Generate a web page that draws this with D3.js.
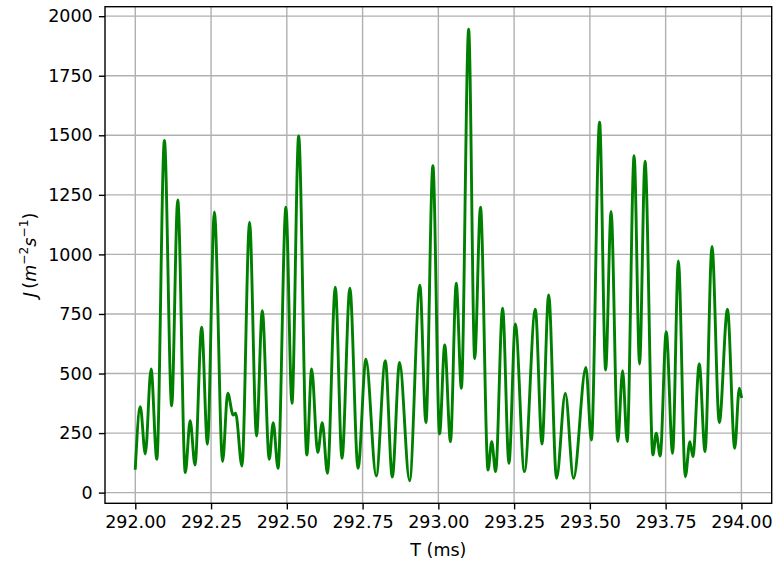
<!DOCTYPE html>
<html>
<head>
<meta charset="utf-8">
<script src="https://cdn.jsdelivr.net/npm/d3@7"></script>
<style>
  html, body { margin: 0; padding: 0; background: #fff; }
  svg { display: block; font-family: "DejaVu Sans", sans-serif; }
</style>
</head>
<body>
<svg id="chart" width="778" height="565"></svg>
<script>
// Flux J over time: turning points of the trace (time in ms, flux in m^-2 s^-1)
const timeMs = [
  292.000, 292.0165, 292.033, 292.052, 292.071, 292.096, 292.120, 292.140, 292.165, 292.181,
  292.197, 292.219, 292.238, 292.261, 292.288, 292.305, 292.323, 292.331, 292.352, 292.377,
  292.400, 292.419, 292.442, 292.455, 292.471, 292.497, 292.517, 292.539, 292.566, 292.582,
  292.602, 292.617, 292.634, 292.660, 292.682, 292.708, 292.735, 292.761, 292.795, 292.825,
  292.848, 292.872, 292.905, 292.939, 292.959, 292.982, 293.004, 293.021, 293.040, 293.059,
  293.076, 293.100, 293.120, 293.139, 293.164, 293.176, 293.189, 293.212, 293.233, 293.254,
  293.284, 293.320, 293.342, 293.364, 293.390, 293.419, 293.446, 293.487, 293.505, 293.532,
  293.552, 293.570, 293.592, 293.608, 293.623, 293.646, 293.664, 293.682, 293.708, 293.719,
  293.732, 293.752, 293.773, 293.792, 293.815, 293.830, 293.840, 293.861, 293.880, 293.903,
  293.927, 293.954, 293.978, 293.993, 294.000
];
const flux = [
  102, 361, 162, 519, 140, 1478, 364, 1229, 84, 302,
  116, 694, 203, 1178, 130, 417, 326, 333, 112, 1135,
  238, 764, 140, 294, 102, 1198, 375, 1497, 158, 519,
  168, 294, 81, 862, 144, 858, 102, 560, 70, 554,
  65, 546, 50, 871, 294, 1372, 246, 620, 214, 879,
  438, 1945, 563, 1198, 95, 214, 88, 774, 123, 708,
  88, 770, 204, 830, 60, 417, 60, 526, 221, 1555,
  515, 1180, 214, 512, 214, 1414, 540, 1391, 158, 249,
  154, 676, 165, 973, 67, 214, 151, 540, 172, 1033,
  294, 770, 186, 438, 403
];
const xTickValues = [292.00, 292.25, 292.50, 292.75, 293.00, 293.25, 293.50, 293.75, 294.00];
const yTickValues = [0, 250, 500, 750, 1000, 1250, 1500, 1750, 2000];

const data = timeMs.map((t, i) => ({ t: t, j: flux[i] }));

const W = 778, H = 565;
const plot = { left: 105, top: 6.7, right: 771.7, bottom: 503.3 };
const pt = 1.75;            // px per point
const fontPx = 17.5;

const svg = d3.select("#chart");

// 5% padding around data extent on both axes
const tExt = d3.extent(timeMs), jExt = d3.extent(flux);
const tPad = (tExt[1] - tExt[0]) * 0.05, jPad = (jExt[1] - jExt[0]) * 0.05;

const x = d3.scaleLinear().domain([tExt[0] - tPad, tExt[1] + tPad]).range([plot.left, plot.right]);
const y = d3.scaleLinear().domain([jExt[0] - jPad, jExt[1] + jPad]).range([plot.bottom, plot.top]);

// grid
const grid = svg.append("g").attr("stroke", "#b0b0b0").attr("stroke-width", 0.8 * pt);
grid.selectAll("line.gx").data(xTickValues).join("line")
  .attr("x1", d => x(d)).attr("x2", d => x(d))
  .attr("y1", plot.top).attr("y2", plot.bottom);
grid.selectAll("line.gy").data(yTickValues).join("line")
  .attr("class", "gy")
  .attr("x1", plot.left).attr("x2", plot.right)
  .attr("y1", d => y(d)).attr("y2", d => y(d));

// trace
svg.append("defs").append("clipPath").attr("id", "clip")
  .append("rect").attr("x", plot.left).attr("y", plot.top)
  .attr("width", plot.right - plot.left).attr("height", plot.bottom - plot.top);

const line = d3.line().x(d => x(d.t)).y(d => y(d.j)).curve(d3.curveMonotoneX);
svg.append("path").datum(data)
  .attr("clip-path", "url(#clip)")
  .attr("fill", "none").attr("stroke", "#008000")
  .attr("stroke-width", 2.9).attr("stroke-linejoin", "round").attr("stroke-linecap", "square")
  .attr("d", line);

// axes
const xAxis = d3.axisBottom(x).tickValues(xTickValues).tickFormat(d3.format(".2f"))
  .tickSize(3.5 * pt).tickPadding(3.5 * pt);
const yAxis = d3.axisLeft(y).tickValues(yTickValues).tickFormat(d3.format("d"))
  .tickSize(3.5 * pt).tickPadding(3.5 * pt);

const gx = svg.append("g").attr("transform", `translate(0,${plot.bottom})`).call(xAxis);
const gy = svg.append("g").attr("transform", `translate(${plot.left},0)`).call(yAxis);
[gx, gy].forEach(g => {
  g.select(".domain").remove();
  g.selectAll(".tick line").attr("stroke", "#000").attr("stroke-width", 0.8 * pt);
  g.selectAll(".tick text").attr("fill", "#000")
    .attr("font-family", "DejaVu Sans").attr("font-size", fontPx);
});

// frame
svg.append("rect")
  .attr("x", plot.left).attr("y", plot.top)
  .attr("width", plot.right - plot.left).attr("height", plot.bottom - plot.top)
  .attr("fill", "none").attr("stroke", "#000").attr("stroke-width", 0.8 * pt);

// axis titles
svg.append("text")
  .attr("x", (plot.left + plot.right) / 2).attr("y", 556)
  .attr("text-anchor", "middle").attr("font-size", fontPx).attr("fill", "#000")
  .text("T (ms)");

const yl = svg.append("text")
  .attr("transform", `translate(36,${(plot.top + plot.bottom) / 2}) rotate(-90)`)
  .attr("text-anchor", "middle").attr("font-size", fontPx).attr("fill", "#000");
yl.append("tspan").attr("font-style", "italic").text("J");
yl.append("tspan").text("\u2009(");
yl.append("tspan").attr("font-style", "italic").text("m");
yl.append("tspan").attr("font-size", fontPx * 0.7).attr("dy", -fontPx * 0.45).text("\u22122");
yl.append("tspan").attr("font-style", "italic").attr("dy", fontPx * 0.45).text("s");
yl.append("tspan").attr("font-size", fontPx * 0.7).attr("dy", -fontPx * 0.45).text("\u22121");
yl.append("tspan").attr("dy", fontPx * 0.45).text(")");
</script>
</body>
</html>
